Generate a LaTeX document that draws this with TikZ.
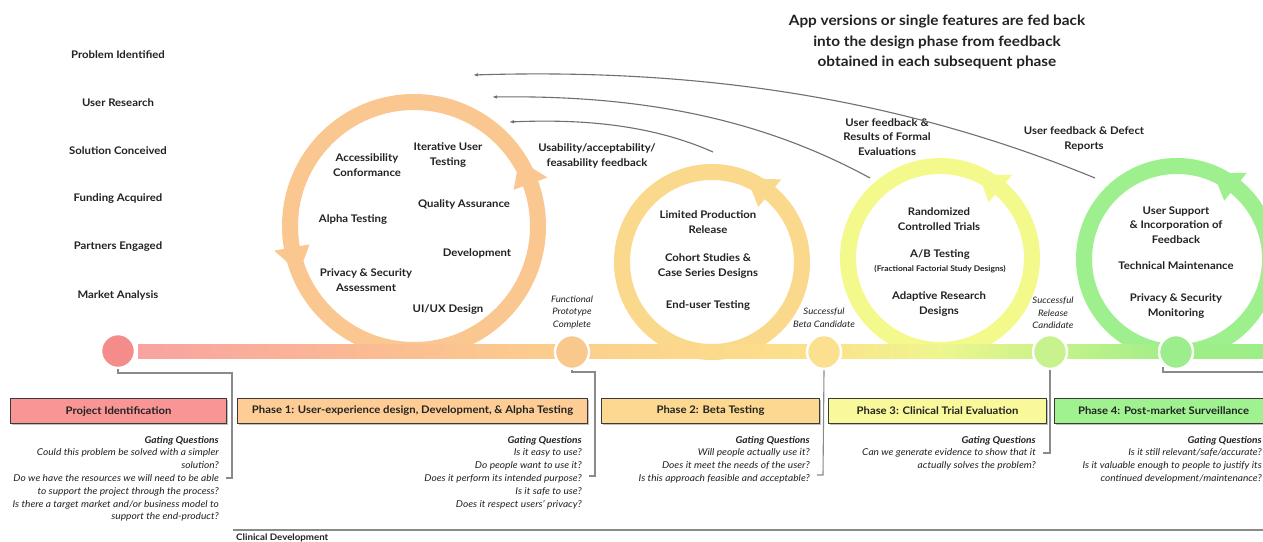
\documentclass[tikz,border=0pt]{standalone}
\usepackage{fontspec}
\setmainfont{Lato}[FakeStretch=1.08]
\usetikzlibrary{calc,shadows,arrows.meta}
\definecolor{txt}{HTML}{222222}
\definecolor{ringA}{HTML}{F9C78F}
\definecolor{ringB}{HTML}{FBD98C}
\definecolor{ringC}{HTML}{F4F98C}
\definecolor{ringD}{HTML}{9EF08E}
\definecolor{msA}{HTML}{F48C8C}
\definecolor{msB}{HTML}{F9C88C}
\definecolor{msC}{HTML}{FBE18F}
\definecolor{msD}{HTML}{C8F28E}
\definecolor{msE}{HTML}{9CEE8C}
\definecolor{bxA}{HTML}{F99595}
\definecolor{bxB}{HTML}{FDCD95}
\definecolor{bxC}{HTML}{FDD890}
\definecolor{bxD}{HTML}{F9F99C}
\definecolor{bxE}{HTML}{A0F291}
\definecolor{bxline}{HTML}{3A3A3A}
\definecolor{conn}{HTML}{8A8A8A}
\definecolor{fbc}{HTML}{707070}
\definecolor{sA}{HTML}{F8A3A0}
\definecolor{sB}{HTML}{FBBE92}
\definecolor{sC}{HTML}{FCCF8C}
\definecolor{sD}{HTML}{FCE28C}
\definecolor{sE}{HTML}{EEF68E}
\definecolor{sF}{HTML}{C9F28A}
\definecolor{sG}{HTML}{9EEE88}
\pgfdeclarehorizontalshading{barshade}{100bp}{color(0bp)=(sA); color(25bp)=(sA); color(36.6bp)=(sB); color(44.3bp)=(sC); color(55.5bp)=(sD); color(60.6bp)=(sE); color(65.5bp)=(sF); color(71.1bp)=(sG); color(75bp)=(sG); color(100bp)=(sG)}
\tikzset{
  lbl/.style={font=\bfseries\fontsize{10.5}{14.8}\selectfont, text=txt, align=center, inner sep=0pt},
  toptxt/.style={font=\bfseries\fontsize{14.2}{20.5}\selectfont, text=txt, align=center, inner sep=0pt},
  smallb/.style={font=\bfseries\fontsize{7.8}{9}\selectfont, text=txt, align=center, inner sep=0pt},
  msl/.style={font=\itshape\fontsize{8.9}{12.5}\selectfont, text=txt, align=center, inner sep=0pt},
  gq/.style={font=\itshape\fontsize{9.4}{12.8}\selectfont, text=txt, align=right, inner sep=0pt, anchor=north east},
  phbox/.style={draw=bxline, line width=1.1pt, minimum height=25pt, inner sep=0pt, anchor=north west,
     font=\bfseries\fontsize{10.45}{12}\selectfont, text=txt,
     drop shadow={shadow xshift=1pt, shadow yshift=-1pt, opacity=0.25, fill=black}},
  ms/.style={circle, minimum size=34pt, inner sep=0pt, draw=white, line width=2.5pt},
  ring/.style={line width=16pt},
  connline/.style={draw=conn, line width=1.1pt},
  fbarrow/.style={draw=fbc, line width=1.1pt, -{Latex[length=5pt,width=3.5pt]}},
}
\begin{document}
\begin{tikzpicture}[x=1pt,y=-1pt]
\useasboundingbox[fill=white] (0,0) rectangle (1263,541);

% ring centres
\coordinate (c1) at (414,226);
\coordinate (c2) at (712,262);
\coordinate (c3) at (940,258);
\coordinate (c4) at (1177,259);

% rings
\draw[ring, draw=ringA] (c1) circle (124pt);
\draw[ring, draw=ringB] (c2) circle (90pt);
\draw[ring, draw=ringC] (c3) circle (92pt);
\draw[ring, draw=ringD] (c4) circle (93pt);

% arrow heads on rings (counter-clockwise)
\fill[ringA] ($(c1)+(20:106pt)$) -- ($(c1)+(20:142pt)$) -- ($(c1)+(32:124pt)$) -- cycle;
\fill[ringA] ($(c1)+(190:106pt)$) -- ($(c1)+(190:142pt)$) -- ($(c1)+(202:124pt)$) -- cycle;
\fill[ringB] ($(c2)+(50:72pt)$) -- ($(c2)+(50:108pt)$) -- ($(c2)+(67:90pt)$) -- cycle;
\fill[ringC] ($(c3)+(49:74pt)$) -- ($(c3)+(49:110pt)$) -- ($(c3)+(65:92pt)$) -- cycle;
\fill[ringD] ($(c4)+(51:75pt)$) -- ($(c4)+(51:111pt)$) -- ($(c4)+(67:93pt)$) -- cycle;

% timeline bar
\shade[shading=barshade] (138,344) rectangle (1263,358);

% milestones
\node[ms, fill=msA] (m1) at (118,351) {};
\node[ms, fill=msB] (m2) at (572,352) {};
\node[ms, fill=msC] (m3) at (824,352) {};
\node[ms, fill=msD] (m4) at (1050,352) {};
\node[ms, fill=msE] (m5) at (1176,352) {};

% left column
\node[lbl] (l1) at (118,55) {Problem Identified};
\node[lbl] (l2) at (118,103) {User Research};
\node[lbl] (l3) at (118,151) {Solution Conceived};
\node[lbl] (l4) at (118,199) {Funding Acquired};
\node[lbl] (l5) at (118,247) {Partners Engaged};
\node[lbl] (l6) at (118,295) {Market Analysis};

% top text
\node[toptxt] (top) at (937,42) {App versions or single features are fed back\\into the design phase from feedback\\obtained in each subsequent phase};

% circle 1 texts
\node[lbl] (t11) at (367,165) {Accessibility\\Conformance};
\node[lbl] (t12) at (448,155) {Iterative User\\Testing};
\node[lbl] (t13) at (464,204) {Quality Assurance};
\node[lbl] (t14) at (353,220) {Alpha Testing};
\node[lbl] (t15) at (477,253) {Development};
\node[lbl] (t16) at (366,280) {Privacy \& Security\\Assessment};
\node[lbl] (t17) at (448,310) {UI/UX Design};

% circle 2 texts
\node[lbl] (t21) at (708,222) {Limited Production\\Release};
\node[lbl] (t22) at (708,266) {Cohort Studies \&\\Case Series Designs};
\node[lbl] (t23) at (708,306) {End-user Testing};

% circle 3 texts
\node[lbl] (t31) at (939,219) {Randomized\\Controlled Trials};
\node[lbl] (t32) at (940,255) {A/B Testing};
\node[smallb] (t33) at (940,269) {(Fractional Factorial Study Designs)};
\node[lbl] (t34) at (939,304) {Adaptive Research\\Designs};

% circle 4 texts
\node[lbl] (t41) at (1176,225) {User Support\\\& Incorporation of\\Feedback};
\node[lbl] (t42) at (1176,266) {Technical Maintenance};
\node[lbl] (t43) at (1176,306) {Privacy \& Security\\Monitoring};

% feedback labels
\node[lbl] (fl1) at (597,156) {Usability/acceptability/\\feasability feedback};
\node[lbl] (fl2) at (887,137) {User feedback \&\\Results of Formal\\Evaluations};
\node[lbl] (fl3) at (1084,139) {User feedback \& Defect\\Reports};

% feedback arrows
\coordinate (f1s) at (1095,178);
\coordinate (f1e) at (473,75);
\coordinate (f2s) at (870,178);
\coordinate (f2e) at (492,97);
\coordinate (f3s) at (713,152);
\coordinate (f3e) at (509,122);
\draw[fbarrow] (f1s) .. controls (900,98) and (700,68) .. (f1e);
\draw[fbarrow] (f2s) .. controls (760,118) and (640,95) .. (f2e);
\draw[fbarrow] (f3s) .. controls (650,124) and (580,119) .. (f3e);

% milestone labels
\node[msl] (ml2) at (572,312) {Functional\\Prototype\\Complete};
\node[msl] (ml3) at (824,318) {Successful\\Beta Candidate};
\node[msl] (ml4) at (1053,313) {Successful\\Release\\Candidate};

% phase boxes
\node[phbox, fill=bxA, minimum width=216pt] (b0) at (10,398) {Project Identification};
\node[phbox, fill=bxB, minimum width=350pt] (b1) at (237,398) {Phase 1: User-experience design, Development, \& Alpha Testing};
\node[phbox, fill=bxC, minimum width=218pt] (b2) at (601,398) {Phase 2: Beta Testing};
\node[phbox, fill=bxD, minimum width=218pt] (b3) at (828,398) {Phase 3: Clinical Trial Evaluation};
\node[phbox, fill=bxE, minimum width=218pt] (b4) at (1054,398) {Phase 4: Post-market Surveillance};

% gating questions
\node[gq] (g0) at (219,436) {\bfseries Gating Questions\\Could this problem be solved with a simpler\\solution?\\Do we have the resources we will need to be able\\to support the project through the process?\\Is there a target market and/or business model to\\support the end-product?};
\node[gq] (g1) at (582,436) {\bfseries Gating Questions\\Is it easy to use?\\Do people want to use it?\\Does it perform its intended purpose?\\Is it safe to use?\\Does it respect users' privacy?};
\node[gq] (g2) at (810,436) {\bfseries Gating Questions\\Will people actually use it?\\Does it meet the needs of the user?\\Is this approach feasible and acceptable?};
\node[gq] (g3) at (1036,436) {\bfseries Gating Questions\\Can we generate evidence to show that it\\actually solves the problem?};
\node[gq] (g4) at (1262,436) {\bfseries Gating Questions\\Is it still relevant/safe/accurate?\\Is it valuable enough to people to justify its\\continued development/maintenance?};

% connectors from milestones
\coordinate (k0) at (226,478);
\coordinate (k1) at (589,476);
\coordinate (k2) at (817,475);
\coordinate (k3) at (1043,453);
\coordinate (k4) at (1263,372);
\draw[connline] (m1.south) -- (118,373) -- (232,373) -- (232,478) -- (k0);
\draw[connline] (m2.south) -- (572,372) -- (595,372) -- (595,476) -- (k1);
\draw[connline] (m3.south) -- (823,475) -- (k2);
\draw[connline] (m4.south) -- (1050,453) -- (k3);
\draw[connline] (1163,367) -- (1163,372) -- (k4);

% bottom rule
\coordinate (r0) at (233,530);
\coordinate (r1) at (1263,530);
\draw[draw=conn, line width=2.2pt] (r0) -- (r1);
\node[font=\bfseries\fontsize{9}{10}\selectfont, text=txt, anchor=west, inner sep=0pt] (cd) at (236,538) {Clinical Development};
\end{tikzpicture}
\end{document}
